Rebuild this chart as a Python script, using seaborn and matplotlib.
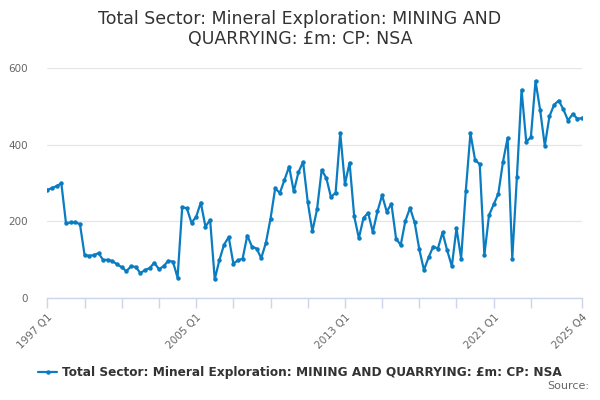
import matplotlib
matplotlib.use("Agg")
import matplotlib.pyplot as plt
import seaborn as sns
import pandas as pd

years = list(range(1997, 2026))
quarters = [f"{y} Q{q}" for y in years for q in range(1, 5)]

values = [
    282, 287, 292, 299, 195, 197, 197, 193,
    112, 110, 112, 117, 99, 100, 96, 88,
    80, 70, 83, 81, 65, 73, 78, 92,
    75, 83, 97, 95, 53, 237, 234, 196,
    212, 249, 186, 204, 49, 99, 139, 159,
    90, 98, 103, 163, 134, 129, 104, 144,
    207, 286, 274, 308, 343, 278, 328, 355,
    251, 174, 231, 334, 313, 263, 275, 430,
    297, 353, 213, 156, 209, 222, 172, 226,
    268, 225, 246, 155, 138, 201, 235, 197,
    127, 73, 106, 134, 129, 171, 124, 83,
    182, 103, 279, 430, 360, 349, 112, 216,
    244, 272, 355, 418, 103, 316, 543, 408,
    419, 566, 490, 397, 474, 504, 515, 492,
    463, 480, 468, 469,
]

label_quarters = ["1997 Q1", "2005 Q1", "2013 Q1", "2021 Q1", "2025 Q4"]
y_ticks = [0, 200, 400, 600]
series_name = "Total Sector: Mineral Exploration: MINING AND QUARRYING: £m: CP: NSA"
title = "Total Sector: Mineral Exploration: MINING AND\nQUARRYING: £m: CP: NSA"

df = pd.DataFrame({"pos": range(len(quarters)), "quarter": quarters, "value": values})

sns.set_theme(style="white")
plt.rcParams["font.family"] = ["DejaVu Sans"]

fig = plt.figure(figsize=(6, 4), dpi=100)
ax = fig.add_axes([0.079, 0.255, 0.891, 0.575])

color = "#0a7cc1"
sns.lineplot(data=df, x="pos", y="value", ax=ax, color=color, linewidth=1.6,
             marker="o", markersize=3.2, markeredgewidth=0, label=series_name)

n = len(quarters)
ax.set_xlim(0, n - 1)
ax.set_ylim(0, 600)
ax.set_yticks(y_ticks)
ax.set_yticklabels([str(v) for v in y_ticks], color="#666666", fontsize=7.5)
ax.yaxis.grid(True, color="#e6e6e6", linewidth=0.9)
ax.set_axisbelow(True)
ax.tick_params(axis="y", length=0, pad=14)

tick_pos = list(range(0, n - 8, 8)) + [n - 1]
ax.set_xticks(tick_pos)
ax.set_xticklabels([quarters[p] if quarters[p] in label_quarters else "" for p in tick_pos],
                   rotation=45, ha="right", rotation_mode="anchor",
                   color="#666666", fontsize=7.5)
ax.tick_params(axis="x", length=7, width=1, color="#ccd6eb", direction="out", pad=3,
               bottom=True)

for s in ["top", "right", "left"]:
    ax.spines[s].set_visible(False)
ax.spines["bottom"].set_color("#ccd6eb")
ax.spines["bottom"].set_linewidth(1)
ax.set_xlabel("")
ax.set_ylabel("")

fig.suptitle(title, fontsize=12.5, color="#333333", y=0.975, x=0.5, linespacing=1.15)

leg = ax.legend(loc="center", bbox_to_anchor=(0.5, 0.068), bbox_transform=fig.transFigure,
                frameon=False, fontsize=8.7, handlelength=1.6, handletextpad=0.4)
for t in leg.get_texts():
    t.set_fontweight("bold")
    t.set_color("#333333")

fig.text(0.982, 0.022, "Source:", ha="right", va="bottom", fontsize=8, color="#666666")

fig.savefig("out.png", dpi=100)
